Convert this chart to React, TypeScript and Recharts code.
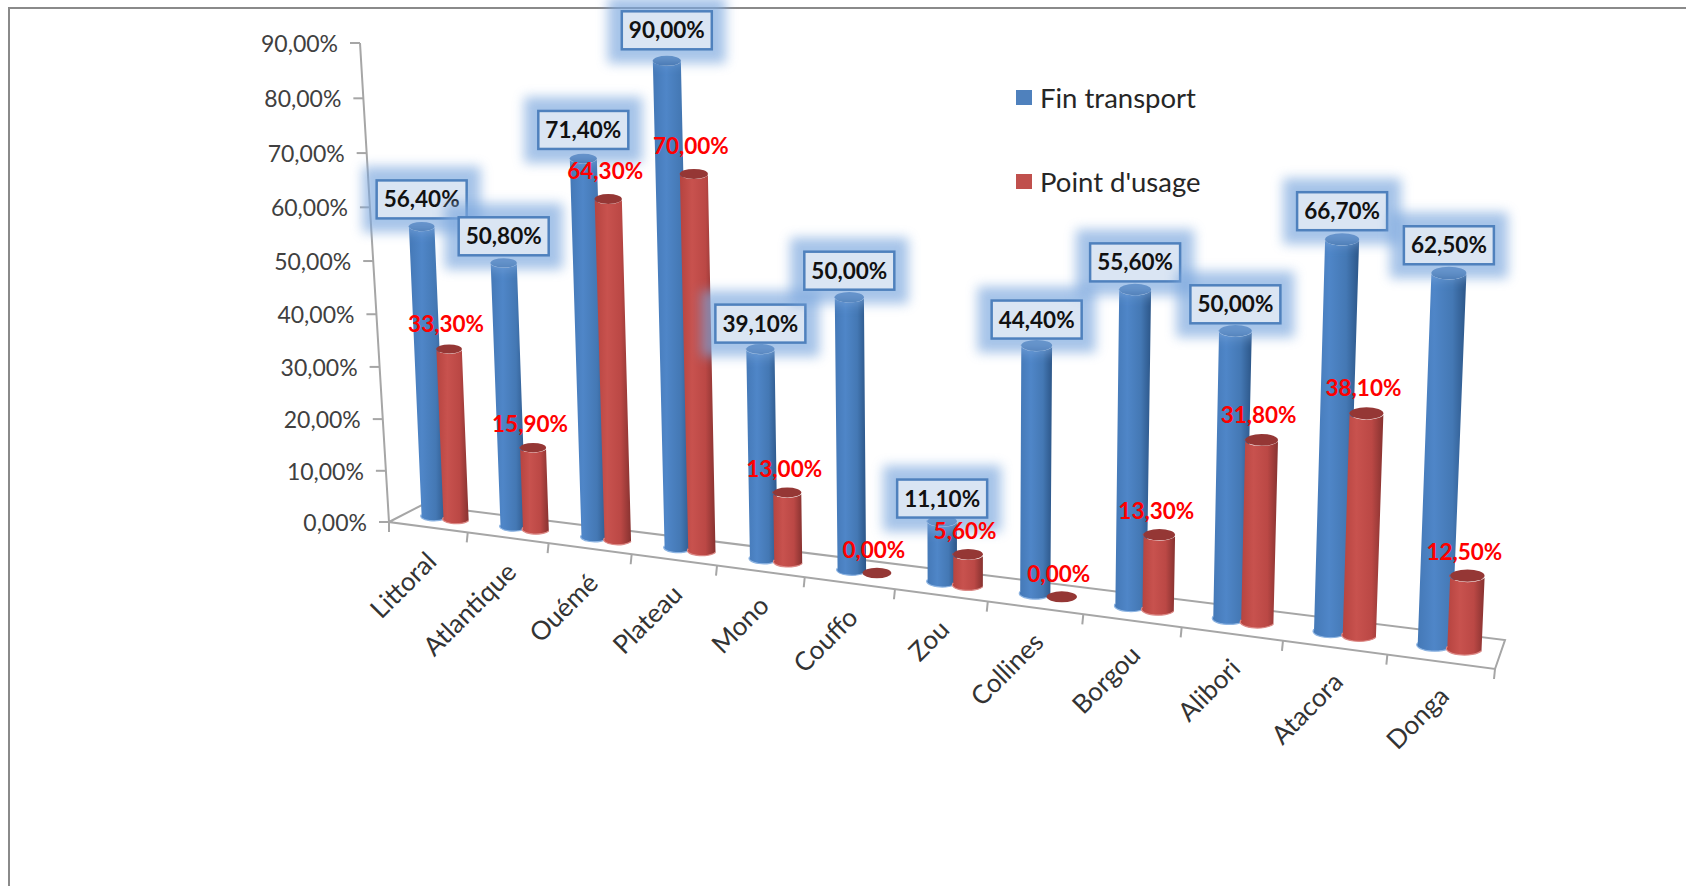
import { Bar, ComposedChart, Legend, Line, XAxis, YAxis } from "recharts"

const regions = ["Littoral", "Atlantique", "Ouémé", "Plateau", "Mono", "Couffo", "Zou", "Collines", "Borgou", "Alibori", "Atacora", "Donga"]
const finTransport = [56.4, 50.8, 71.4, 90, 39.1, 50, 11.1, 44.4, 55.6, 50, 66.7, 62.5]
const pointUsage = [33.3, 15.9, 64.3, 70, 13, 0, 5.6, 0, 13.3, 31.8, 38.1, 12.5]
const valueTicks = [0, 10, 20, 30, 40, 50, 60, 70, 80, 90]

const chartData = regions.map((name, i) => ({ name, fin: finTransport[i], usage: pointUsage[i] }))

const WIDTH = 1686
const HEIGHT = 886
// flat plot rectangle that the library lays out, warped to the 3D look afterwards
const PLOT = { left: 200, right: 1400, top: 100, bottom: 700 }
const BAR_SIZE = 32
const BAR_GAP = -4
const FONT = "Lato, sans-serif"

type Pt = [number, number]

// unit square -> quad (bottom-left, bottom-right, top-right, top-left)
function makeWarp(p0: Pt, p1: Pt, p2: Pt, p3: Pt) {
  const dx1 = p1[0] - p2[0]
  const dx2 = p3[0] - p2[0]
  const sx = p0[0] - p1[0] + p2[0] - p3[0]
  const dy1 = p1[1] - p2[1]
  const dy2 = p3[1] - p2[1]
  const sy = p0[1] - p1[1] + p2[1] - p3[1]
  const den = dx1 * dy2 - dx2 * dy1
  const g = (sx * dy2 - dx2 * sy) / den
  const h = (dx1 * sy - sx * dy1) / den
  const a = p1[0] - p0[0] + g * p1[0]
  const b = p3[0] - p0[0] + h * p3[0]
  const d = p1[1] - p0[1] + g * p1[1]
  const e = p3[1] - p0[1] + h * p3[1]
  return (x: number, y: number): Pt => {
    const s = (x - PLOT.left) / (PLOT.right - PLOT.left)
    const t = (PLOT.bottom - y) / (PLOT.bottom - PLOT.top)
    const w = g * s + h * t + 1
    return [(a * s + b * t + p0[0]) / w, (d * s + e * t + p0[1]) / w]
  }
}

const barPlane = makeWarp([406, 512.5], [1503, 653.5], [1527, 106], [385, 46])
const frontPlane = makeWarp([389, 522], [1495, 669], [1519, 104], [360, 43])

const pct = (v: number) => v.toFixed(2).replace(".", ",") + "%"

function Cylinder(props: any) {
  const { x, y, width, height, kind } = props
  const base = y + height
  const bl = barPlane(x, base)
  const br = barPlane(x + width, base)
  const tl = barPlane(x, y)
  const tr = barPlane(x + width, y)
  const rb = (br[0] - bl[0]) / 2
  const rt = (tr[0] - tl[0]) / 2
  const ryb = rb * 0.36
  const ryt = rt * 0.36
  const cap = kind === "fin" ? "#3d6ea8" : "#953735"
  if (height < 0.5) {
    return <ellipse cx={(bl[0] + br[0]) / 2} cy={(bl[1] + br[1]) / 2} rx={rb} ry={ryb} fill={cap} />
  }
  const body = `M${tl[0]},${tl[1]} L${bl[0]},${bl[1]} A${rb},${ryb} 0 0 0 ${br[0]},${br[1]} L${tr[0]},${tr[1]} A${rt},${ryt} 0 0 1 ${tl[0]},${tl[1]} Z`
  return (
    <g>
      <path d={body} fill={`url(#cyl-${kind})`} />
      <path
        d={`M${bl[0]},${bl[1]} A${rb},${ryb} 0 0 0 ${br[0]},${br[1]}`}
        fill="none"
        stroke={kind === "fin" ? "#8db4e2" : "#dc8a87"}
        strokeWidth={1.2}
      />
      <ellipse cx={(tl[0] + tr[0]) / 2} cy={(tl[1] + tr[1]) / 2} rx={rt} ry={ryt} fill={cap} />
    </g>
  )
}

function FinLabel(props: any) {
  const { x, y, value } = props
  const [cx, cy] = barPlane(x - (BAR_SIZE + BAR_GAP) / 2, y)
  const boxY = cy - 21.5 - value * 0.1
  return (
    <g>
      <rect x={cx - 59} y={boxY - 33} width={118} height={66} fill="#7ba7de" opacity={0.68} filter="url(#glow)" />
      <rect x={cx - 45} y={boxY - 19} width={90} height={38} fill="#dae5f3" stroke="#4f81bd" strokeWidth={2.5} />
      <text x={cx} y={boxY + 8} textAnchor="middle" fontFamily={FONT} fontWeight={700} fontSize={22.5} fill="#111">
        {pct(value)}
      </text>
    </g>
  )
}

function UsageLabel(props: any) {
  const { x, y, value } = props
  const [cx, cy] = barPlane(x + (BAR_SIZE + BAR_GAP) / 2, y)
  return (
    <text x={cx - 3} y={cy - 15 - value * 0.07} textAnchor="middle" fontFamily={FONT} fontWeight={700} fontSize={22.5} fill="#ff0000">
      {pct(value)}
    </text>
  )
}

function ValueTick(props: any) {
  const { y, payload } = props
  const [ax, ay] = frontPlane(PLOT.left, y)
  return (
    <g>
      <line x1={ax - 10} y1={ay} x2={ax} y2={ay} stroke="#a6a6a6" strokeWidth={2} />
      <text x={ax - 22} y={ay + 9} textAnchor="end" fontFamily={FONT} fontSize={23} fill="#404040">
        {pct(payload.value)}
      </text>
    </g>
  )
}

function RegionTick(props: any) {
  const { x, payload, index } = props
  const band = (PLOT.right - PLOT.left) / regions.length
  const [tx, ty] = frontPlane(x, PLOT.bottom)
  const [ex, ey] = frontPlane(x + band / 2, PLOT.bottom)
  const [sx, sy] = frontPlane(x - band / 2, PLOT.bottom)
  const lx = tx + 10
  const ly = ty + 36
  return (
    <g>
      <line x1={ex} y1={ey} x2={ex - 1} y2={ey + 10} stroke="#a6a6a6" strokeWidth={2} />
      {index === 0 && <line x1={sx} y1={sy} x2={sx} y2={sy + 10} stroke="#a6a6a6" strokeWidth={2} />}
      <text x={lx} y={ly} textAnchor="end" fontFamily={FONT} fontSize={26} fill="#333" transform={`rotate(-45 ${lx} ${ly})`}>
        {payload.value}
      </text>
    </g>
  )
}

function Floor() {
  const fl = frontPlane(PLOT.left, PLOT.bottom)
  const fr = frontPlane(PLOT.right, PLOT.bottom)
  const ft = frontPlane(PLOT.left, PLOT.top)
  const bl: Pt = [422, 505]
  const br: Pt = [1505, 640]
  const d = `M${ft[0]},${ft[1]} L${fl[0]},${fl[1]} L${fr[0]},${fr[1]} L${br[0]},${br[1]} L${bl[0]},${bl[1]} L${fl[0]},${fl[1]}`
  return <path d={d} fill="none" stroke="#a6a6a6" strokeWidth={2} />
}

function LegendBox(props: any) {
  const items = (props.payload || []).filter((p: any) => p.type !== "none")
  return (
    <div style={{ fontFamily: FONT, fontSize: 27.5, color: "#262626" }}>
      {items.map((item: any) => (
        <div key={item.value} style={{ display: "flex", alignItems: "center", height: 84 }}>
          <span style={{ width: 16, height: 15, background: item.color, marginRight: 8, display: "inline-block" }} />
          {item.value}
        </div>
      ))}
    </div>
  )
}

export default function App() {
  return (
    <div style={{ position: "absolute", left: 0, top: 0, width: WIDTH, height: HEIGHT, background: "#fff", overflow: "hidden" }}>
      <div
        style={{
          position: "absolute",
          left: 8,
          top: 7,
          width: WIDTH - 8,
          height: HEIGHT - 7,
          borderTop: "2px solid #8a8a8a",
          borderLeft: "2px solid #8a8a8a",
        }}
      />
      <ComposedChart
        width={WIDTH}
        height={HEIGHT}
        data={chartData}
        barSize={BAR_SIZE}
        barGap={BAR_GAP}
        margin={{ left: PLOT.left - 60, right: WIDTH - PLOT.right, top: PLOT.top, bottom: HEIGHT - PLOT.bottom - 30 }}
        style={{ position: "absolute", left: 0, top: 0 }}
      >
        <defs>
          <linearGradient id="cyl-fin" x1="0" y1="0" x2="1" y2="0">
            <stop offset="0" stopColor="#4478b6" />
            <stop offset="0.35" stopColor="#4f86c8" />
            <stop offset="0.72" stopColor="#4478b4" />
            <stop offset="1" stopColor="#2c5688" />
          </linearGradient>
          <linearGradient id="cyl-usage" x1="0" y1="0" x2="1" y2="0">
            <stop offset="0" stopColor="#b5433f" />
            <stop offset="0.35" stopColor="#c8524e" />
            <stop offset="0.72" stopColor="#bb4845" />
            <stop offset="1" stopColor="#873230" />
          </linearGradient>
          <filter id="glow" x="-30%" y="-60%" width="160%" height="220%">
            <feGaussianBlur stdDeviation="6" />
          </filter>
        </defs>
        <Floor />
        <XAxis dataKey="name" height={30} axisLine={false} tickLine={false} tick={<RegionTick />} interval={0} />
        <YAxis width={60} domain={[0, 90]} ticks={valueTicks} axisLine={false} tickLine={false} tick={<ValueTick />} />
        <Bar dataKey="fin" name="Fin transport" fill="#4f81bd" isAnimationActive={false} shape={(p: any) => <Cylinder {...p} kind="fin" />} />
        <Bar dataKey="usage" name="Point d'usage" fill="#c0504d" isAnimationActive={false} shape={(p: any) => <Cylinder {...p} kind="usage" />} />
        <Line dataKey="fin" stroke="none" dot={false} activeDot={false} legendType="none" isAnimationActive={false} label={(p: any) => <FinLabel key={p.index} {...p} />} />
        <Line dataKey="usage" stroke="none" dot={false} activeDot={false} legendType="none" isAnimationActive={false} label={(p: any) => <UsageLabel key={p.index} {...p} />} />
        <Legend
          content={<LegendBox />}
          layout="vertical"
          align="center"
          verticalAlign="middle"
          wrapperStyle={{ left: 1016, top: 55, width: 240, height: "auto" }}
        />
      </ComposedChart>
    </div>
  )
}
